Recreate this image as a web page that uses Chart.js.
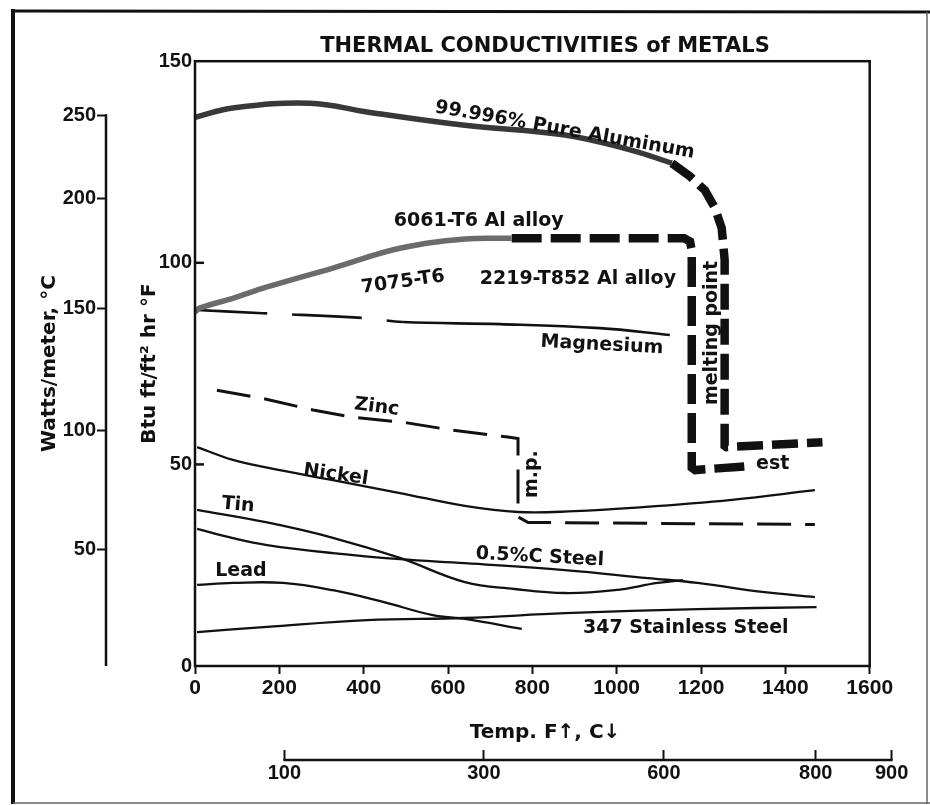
<!DOCTYPE html>
<html>
<head>
<meta charset="utf-8">
<title>Thermal conductivities of metals</title>
<script src="https://cdn.jsdelivr.net/npm/chart.js@4"></script>
<style>
    html, body { margin: 0; padding: 0; background: #fff; }
    #wrap { width: 930px; height: 805px; }
</style>
</head>
<body>
<div id="wrap"><canvas id="conductivityChart" width="930" height="805"></canvas></div>
<script>
    // axis ticks (x in deg F, y in Btu ft/ft2 hr F)
    const fTickValues = [0, 200, 400, 600, 800, 1000, 1200, 1400, 1600];
    const btuTickValues = [0, 50, 100, 150];
    // secondary scales as printed on the figure, placed where they sit on the primary ones
    const wattTickLabels = [50, 100, 150, 200, 250];
    const wattTickAtBtu = [28.8, 58.5, 88.7, 115.9, 136.6];
    const celsiusTickLabels = [100, 300, 600, 800, 900];
    const celsiusTickAtF = [212, 685, 1112, 1472, 1652];

    // curves
    const pureAlF = [0, 90, 273, 408, 640, 877, 1036, 1131];
    const pureAlBtu = [136.1, 138.4, 139.6, 137.4, 134.1, 131.7, 127.9, 124.7];
    const pureAlMoltenF = [1131, 1173, 1209, 1233, 1249, 1256, 1256, 1260, 1488];
    const pureAlMoltenBtu = [124.7, 121.5, 118.0, 113.6, 108.6, 100.7, 54.6, 54.3, 55.5];

    const alloy6061F = [0, 12, 90, 171, 327, 486, 640, 751];
    const alloy6061Btu = [87.8, 88.8, 91.2, 94.0, 98.7, 103.6, 105.9, 106.1];
    const alloy2219F = [751, 1160, 1174, 1178, 1178, 1186, 1316];
    const alloy2219Btu = [106.1, 106.1, 105.3, 103.0, 49.2, 48.6, 49.6];

    const magnesiumF = [5, 161, 403, 493, 723, 960, 1126];
    const magnesiumBtu = [88.3, 87.5, 86.3, 85.3, 84.8, 83.8, 82.1];

    const zincF = [52, 154, 280, 374, 503, 609, 742, 766, 766, 790, 1470];
    const zincBtu = [68.4, 66.5, 63.5, 61.7, 60.3, 58.5, 56.8, 56.4, 37.0, 35.6, 35.1];

    const nickelF = [5, 90, 171, 327, 486, 640, 766, 900, 1036, 1273, 1470];
    const nickelBtu = [54.3, 51.1, 49.2, 46.1, 42.9, 39.7, 38.2, 38.4, 39.2, 41.2, 43.6];

    const tinF = [5, 171, 327, 486, 640, 758, 877, 995, 1097, 1157];
    const tinBtu = [38.7, 35.6, 31.8, 26.8, 20.8, 19.1, 18.1, 18.8, 20.6, 21.3];

    const steelF = [5, 90, 171, 327, 486, 640, 877, 1074, 1192, 1351, 1470];
    const steelBtu = [34.0, 31.7, 30.0, 28.0, 26.5, 25.5, 23.8, 21.8, 20.6, 18.3, 17.1];

    const leadF = [5, 90, 209, 327, 446, 564, 640, 775];
    const leadBtu = [20.1, 20.6, 20.6, 18.8, 15.9, 12.6, 11.7, 9.2];

    const stainlessF = [5, 171, 408, 640, 877, 1192, 1474];
    const stainlessBtu = [8.4, 9.7, 11.4, 11.9, 13.1, 14.1, 14.6];

    // text written on the plot, anchored in data units
    const curveLabels = [
        { text: '99.996% Pure Aluminum', f: 877, btu: 132.9, angle: 10 },
        { text: '6061-T6 Al alloy', f: 673, btu: 110.3, angle: 0 },
        { text: '7075-T6', f: 493, btu: 95.2, angle: -8 },
        { text: '2219-T852 Al alloy', f: 908, btu: 96.0, angle: 0 },
        { text: 'Magnesium', f: 965, btu: 79.6, angle: 3 },
        { text: 'melting point', f: 1225, btu: 82.6, angle: -90 },
        { text: 'Zinc', f: 431, btu: 64.2, angle: 7 },
        { text: 'm.p.', f: 799, btu: 47.6, angle: -90 },
        { text: 'Nickel', f: 334, btu: 47.4, angle: 8 },
        { text: 'Tin', f: 102, btu: 39.9, angle: 5 },
        { text: 'Lead', f: 109, btu: 23.6, angle: 0 },
        { text: '0.5%C Steel', f: 818, btu: 27.0, angle: 3 },
        { text: '347 Stainless Steel', f: 1164, btu: 9.4, angle: 0 },
        { text: 'est', f: 1370, btu: 50.1, angle: 0 }
    ];

    const INK = '#111';
    const labelFont = 'bold 19px "DejaVu Sans", sans-serif';
    const tickFont = { family: '"Liberation Sans", Arial, sans-serif', weight: 'bold' };
    const titleFont = { family: '"DejaVu Sans", sans-serif', weight: 'bold' };

    function toPoints(xs, ys) {
        return xs.map((x, i) => ({ x, y: ys[i] }));
    }

    function curve(label, xs, ys, style) {
        return Object.assign({
            label,
            data: toPoints(xs, ys),
            borderColor: INK,
            borderWidth: 2.3,
            pointRadius: 0,
            tension: 0.4,
            fill: false,
            borderCapStyle: 'butt'
        }, style);
    }

    const datasets = [
        curve('99.996% Pure Aluminum', pureAlF, pureAlBtu, { borderColor: '#383838', borderWidth: 5.5 }),
        curve('Pure Aluminum (melting)', pureAlMoltenF, pureAlMoltenBtu, { borderWidth: 8.5, borderDash: [26, 9], tension: 0 }),
        curve('6061-T6 Al alloy', alloy6061F, alloy6061Btu, { borderColor: '#6b6b6b', borderWidth: 5.5 }),
        curve('2219-T852 Al alloy', alloy2219F, alloy2219Btu, { borderWidth: 8.5, borderDash: [30, 9], tension: 0 }),
        curve('Magnesium', magnesiumF, magnesiumBtu, {
            borderWidth: 2.6,
            segment: { borderDash: (ctx) => (ctx.p0.parsed.x < 493 ? [70, 25] : undefined) }
        }),
        curve('Zinc', zincF, zincBtu, { borderWidth: 3, borderDash: [34, 14], tension: 0 }),
        curve('Nickel', nickelF, nickelBtu),
        curve('Tin', tinF, tinBtu),
        curve('0.5%C Steel', steelF, steelBtu),
        curve('Lead', leadF, leadBtu),
        curve('347 Stainless Steel', stainlessF, stainlessBtu)
    ];

    function line(ctx, x1, y1, x2, y2) {
        ctx.beginPath();
        ctx.moveTo(x1, y1);
        ctx.lineTo(x2, y2);
        ctx.stroke();
    }

    const figurePlugin = {
        id: 'figure',
        beforeDraw(chart) {
            const { ctx, width, height } = chart;
            ctx.save();
            ctx.fillStyle = '#fff';
            ctx.fillRect(0, 0, width, height);
            ctx.strokeStyle = INK;
            ctx.lineWidth = 4;
            line(ctx, 13, 9, 13, 804);
            ctx.lineWidth = 3;
            line(ctx, 11, 11, 930, 12);
            ctx.lineWidth = 1.5;
            ctx.strokeStyle = '#666';
            line(ctx, 927, 12, 927, 804);
            line(ctx, 13, 803, 930, 803);
            ctx.restore();
        },
        afterDatasetsDraw(chart) {
            const { ctx } = chart;
            const { x, y, x2, y2 } = chart.scales;
            const left = x.getPixelForValue(0);
            const right = x.getPixelForValue(1600);
            const top = y.getPixelForValue(150);
            const bottom = y.getPixelForValue(0);

            ctx.save();
            ctx.strokeStyle = INK;
            ctx.lineWidth = 2.5;
            ctx.strokeRect(left, top, right - left, bottom - top);

            // inward ticks on the Btu axis
            btuTickValues.forEach((v) => {
                if (v > 0 && v < 150) {
                    const py = y.getPixelForValue(v);
                    line(ctx, left, py, left + 9, py);
                }
            });

            // Watts/meter axis line
            line(ctx, y2.right - 1, y2.getPixelForValue(wattTickAtBtu[wattTickAtBtu.length - 1]) - 1,
                y2.right - 1, y2.getPixelForValue(0));

            // Celsius axis line
            const cy = x2.top + x2.options.grid.tickLength;
            line(ctx, x2.getPixelForValue(celsiusTickAtF[0]) - 1, cy,
                x2.getPixelForValue(celsiusTickAtF[celsiusTickAtF.length - 1]) + 1, cy);

            ctx.fillStyle = INK;
            ctx.font = labelFont;
            ctx.textAlign = 'center';
            ctx.textBaseline = 'middle';
            curveLabels.forEach((lbl) => {
                ctx.save();
                ctx.translate(x.getPixelForValue(lbl.f), y.getPixelForValue(lbl.btu));
                ctx.rotate(lbl.angle * Math.PI / 180);
                ctx.fillText(lbl.text, 0, 0);
                ctx.restore();
            });
            ctx.restore();
        }
    };

    const setTicks = (values) => (scale) => {
        scale.ticks = values.map((value) => ({ value }));
    };
    const plainNumber = (value) => String(value);

    new Chart(document.getElementById('conductivityChart'), {
        type: 'line',
        data: { datasets },
        options: {
            responsive: false,
            animation: false,
            events: [],
            layout: { padding: { left: 25, right: 35, top: 22, bottom: 5 } },
            plugins: {
                legend: { display: false },
                tooltip: { enabled: false },
                title: {
                    display: true,
                    text: 'THERMAL CONDUCTIVITIES of METALS',
                    fullSize: false,
                    color: INK,
                    font: { ...titleFont, size: 21 },
                    padding: { top: 12, bottom: 2 }
                }
            },
            scales: {
                x: {
                    type: 'linear',
                    position: 'bottom',
                    weight: 0,
                    min: 0,
                    max: 1660,
                    afterBuildTicks: setTicks(fTickValues),
                    afterFit: (scale) => { scale.height = 84; },
                    border: { display: false },
                    grid: { drawOnChartArea: false, drawTicks: true, tickLength: 8, tickWidth: 2, tickColor: INK },
                    ticks: {
                        color: INK,
                        font: { ...tickFont, size: 21 },
                        padding: 2,
                        autoSkip: false,
                        maxRotation: 0,
                        callback: plainNumber
                    },
                    title: {
                        display: true,
                        text: 'Temp. F\u2191, C\u2193',
                        color: INK,
                        font: { ...titleFont, size: 20 },
                        padding: { top: 0, bottom: 5 }
                    }
                },
                x2: {
                    type: 'linear',
                    position: 'bottom',
                    weight: 1,
                    min: 0,
                    max: 1660,
                    afterBuildTicks: setTicks(celsiusTickAtF),
                    afterFit: (scale) => { scale.height = 50; },
                    border: { display: false },
                    grid: { drawOnChartArea: false, drawTicks: true, tickLength: 10, tickWidth: 2, tickColor: INK },
                    ticks: {
                        color: INK,
                        font: { ...tickFont, size: 20 },
                        padding: 1,
                        autoSkip: false,
                        maxRotation: 0,
                        callback: (value, index) => celsiusTickLabels[index]
                    }
                },
                y: {
                    type: 'linear',
                    position: 'left',
                    weight: 0,
                    min: 0,
                    max: 150,
                    afterBuildTicks: setTicks(btuTickValues),
                    afterFit: (scale) => { scale.width = 88; },
                    border: { display: false },
                    grid: { drawOnChartArea: false, drawTicks: false },
                    ticks: { color: INK, font: { ...tickFont, size: 20 }, padding: 3, callback: plainNumber },
                    title: {
                        display: true,
                        text: 'Btu ft/ft\u00b2 hr \u00b0F',
                        color: INK,
                        font: { ...titleFont, size: 20 },
                        padding: { top: 31, bottom: 0 }
                    }
                },
                y2: {
                    type: 'linear',
                    position: 'left',
                    weight: 1,
                    min: 0,
                    max: 150,
                    afterBuildTicks: setTicks(wattTickAtBtu),
                    afterFit: (scale) => { scale.width = 82; },
                    border: { display: false },
                    grid: { drawOnChartArea: false, drawTicks: true, tickLength: 10, tickWidth: 2, tickColor: INK },
                    ticks: {
                        color: INK,
                        font: { ...tickFont, size: 20 },
                        padding: 1,
                        callback: (value, index) => wattTickLabels[index]
                    },
                    title: {
                        display: true,
                        text: 'Watts/meter, \u00b0C',
                        color: INK,
                        font: { ...titleFont, size: 20 },
                        padding: { top: 13, bottom: 0 }
                    }
                }
            }
        },
        plugins: [figurePlugin]
    });
</script>
</body>
</html>
